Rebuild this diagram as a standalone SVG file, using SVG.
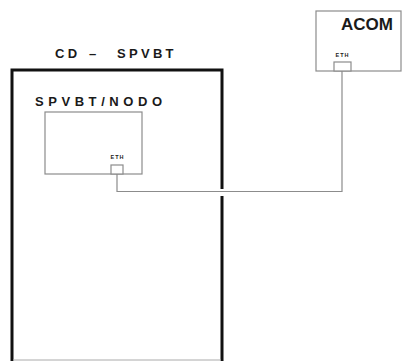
<svg xmlns="http://www.w3.org/2000/svg" width="406" height="361" viewBox="0 0 406 361">
<style>
.t{font-family:"Liberation Sans",Arial,sans-serif;font-weight:bold;fill:#1a1a1a}
.thin{fill:#fff;stroke:#8c8c8c;stroke-width:1.2}
.wire{fill:none;stroke:#8c8c8c;stroke-width:1.2}
.thick{fill:none;stroke:#111;stroke-width:3;stroke-linejoin:miter}
</style>
<rect width="406" height="361" fill="#fff"/>
<g id="cd-spvbt">
<path class="thick" d="M12,362 V70 H222 V189 M222,196 V362"/>
<line x1="13" y1="360" x2="221" y2="360" stroke="#aaa" stroke-width="1"/>
<text class="t" font-size="13" y="58"><tspan x="55" letter-spacing="3.3">CD</tspan><tspan x="89">–</tspan><tspan x="117" letter-spacing="3.3">SPVBT</tspan></text>
</g>
<g id="spvbt-nodo">
<text class="t" font-size="13" x="35" y="106" textLength="127" lengthAdjust="spacing">SPVBT/NODO</text>
<rect class="thin" x="45" y="112" width="97" height="62"/>
<rect class="thin" x="111" y="165" width="12" height="9"/>
<text class="t" font-size="5.5" x="117.5" y="159" text-anchor="middle" letter-spacing="1">ETH</text>
</g>
<g id="acom">
<rect class="thin" x="316" y="11" width="85" height="60"/>
<text class="t" font-size="17" x="341" y="30" textLength="52" lengthAdjust="spacingAndGlyphs">ACOM</text>
<rect class="thin" x="334" y="62" width="17" height="9"/>
<text class="t" font-size="5.5" x="342.5" y="57" text-anchor="middle" letter-spacing="1">ETH</text>
</g>
<g id="connectors">
<path class="wire" d="M342,71 V191.5 H117 V174"/>
</g>
</svg>
